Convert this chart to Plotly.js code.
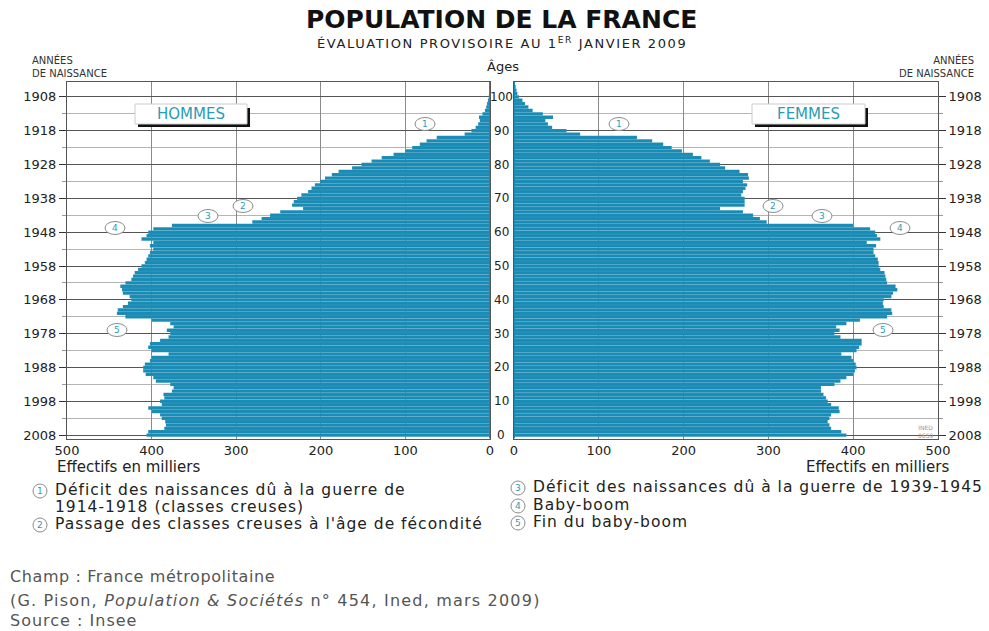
<!DOCTYPE html>
<html><head><meta charset="utf-8">
<script src="https://cdn.plot.ly/plotly-3.0.1.min.js"></script>
<style>html,body{margin:0;padding:0;background:#fff}#chart{width:989px;height:631px}</style>
</head><body><div id="chart"></div>
<script>
// ---------- DATA ----------
const ages = [0,1,2,3,4,5,6,7,8,9,10,11,12,13,14,15,16,17,18,19,20,21,22,23,24,25,26,27,28,29,30,31,32,33,34,35,36,37,38,39,40,41,42,43,44,45,46,47,48,49,50,51,52,53,54,55,56,57,58,59,60,61,62,63,64,65,66,67,68,69,70,71,72,73,74,75,76,77,78,79,80,81,82,83,84,85,86,87,88,89,90,91,92,93,94,95,96,97,98,99,100,101,102,103,104,105];
// Effectifs en milliers, hommes
const hommes = [406,404,385,383,384,388,390,400,404,388,
                390,385,386,376,374,378,395,398,407,410,
                410,408,402,400,380,400,404,402,390,380,
                378,382,374,378,400,431,441,440,434,428,
                424,426,434,435,437,431,424,422,420,416,
                412,408,406,404,402,398,402,398,412,406,
                404,398,376,281,270,260,248,221,234,232,
                228,223,215,211,207,201,195,187,179,163,
                152,140,128,114,100,92,83,75,63,30,
                22,17,14,12,13,9,6,4.5,3.5,2.5,
                1.5,1,0.7,0.4,0.2,0.1];
// Effectifs en milliers, femmes
const femmes = [392,386,374,372,370,372,374,384,383,374,
                370,368,365,362,362,378,385,392,400,402,
                404,403,400,398,386,404,407,410,410,385,
                378,384,380,392,408,440,446,445,436,435,
                436,445,447,452,450,440,439,438,437,432,
                430,430,429,426,424,424,427,416,432,428,
                426,420,400,298,290,282,270,243,272,272,
                272,268,270,273,275,270,277,276,266,249,
                243,231,221,211,198,186,176,163,145,78,
                62,45,40,37,46,34,22,17,13,10,
                6,4,3,2,1,0.5];
const valueTicks = [0,100,200,300,400,500];
const ageTicks = [0,10,20,30,40,50,60,70,80,90,100,105];
const yearTickVals = [0,10,20,30,40,50,60,70,80,90,100];
const yearTickText = ['2008','1998','1988','1978','1968','1958','1948','1938','1928','1918','1908'];
const minorAgeTicks = [5,15,25,35,45,55,65,75,85,95];
const notes = ['1','2','3','4','5'];
const legendTexts = [
  'Déficit des naissances dû à la guerre de',
  '1914-1918 (classes creuses)',
  "Passage des classes creuses à l'âge de fécondité",
  'Déficit des naissances dû à la guerre de 1939-1945',
  'Baby-boom',
  'Fin du baby-boom'
];

// ---------- STYLE / LAYOUT ----------
const W = 989, H = 631;
const FONT = 'DejaVu Sans, Liberation Sans, Arial, sans-serif';
const BLUE = '#1a8bb5';
const TEAL = '#2a9cb6';
const px = x => x / W;
const py = y => 1 - y / H;
const yDom = [py(438.5), py(81.7)];
const yRange = [-1, 104.5];

const traces = [
  {type:'bar', orientation:'h', x:hommes, y:ages, xaxis:'x', yaxis:'y',
   marker:{color:BLUE, line:{color:'rgba(255,255,255,0.22)', width:0.3}}, hoverinfo:'skip'},
  {type:'bar', orientation:'h', x:femmes, y:ages, xaxis:'x2', yaxis:'y2',
   marker:{color:BLUE, line:{color:'rgba(255,255,255,0.22)', width:0.3}}, hoverinfo:'skip'}
];

const yCommon = {
  domain: yDom, range: yRange, tickmode:'array', tickvals: yearTickVals, ticktext: yearTickText,
  ticks:'outside', ticklen:7, tickcolor:'#333', tickwidth:1,
  showgrid:true, gridcolor:'#555', gridwidth:1,
  minor:{tickmode:'array', tickvals:minorAgeTicks, showgrid:true, gridcolor:'#b5b5b5', gridwidth:1,
         ticks:'outside', ticklen:4, tickcolor:'#999'},
  showline:true, linecolor:'#555', linewidth:1, mirror:true, zeroline:false,
  tickfont:{family:FONT, size:13, color:'#222'}, fixedrange:true
};
const xCommon = {
  tickmode:'array', tickvals: valueTicks, showgrid:true, gridcolor:'#8a8a8a', gridwidth:1.2,
  showline:true, linecolor:'#555', linewidth:1, mirror:true, zeroline:false, ticks:'',
  tickfont:{family:FONT, size:13, color:'#222'}, fixedrange:true
};

const annotations = [];
const spacing = {};   // annotation index -> letter-spacing (px), to mimic the wide lettering
const shapes = [];
function txt(x, y, text, size, opts, ls) {
  if (ls) spacing[annotations.length] = ls;
  annotations.push(Object.assign({xref:'paper', yref:'paper', x:px(x), y:py(y), text:text,
    showarrow:false, xanchor:'center', yanchor:'middle',
    font:{family:FONT, size:size, color:'#222'}}, opts || {}));
}
function circled(x, y, label, rx, ry) {
  shapes.push({type:'circle', xref:'paper', yref:'paper', x0:px(x-rx), x1:px(x+rx), y0:py(y+ry), y1:py(y-ry),
    line:{color:'#8c8c8c', width:1}, fillcolor:'#fff', layer:'above'});
  txt(x, y, label, 9, {font:{family:FONT, size:9, color:TEAL}});
}

// Titles
txt(501, 20, '<b>POPULATION DE LA FRANCE</b>', 25, {font:{family:FONT, size:25, color:'#111'}});
txt(315, 43, 'ÉVALUATION PROVISOIRE AU 1<sup>ER</sup> JANVIER 2009', 13, {xanchor:'left', font:{family:FONT, size:13, color:'#222'}}, 1.6);
txt(30, 66, 'ANNÉES<br>DE NAISSANCE', 10, {xanchor:'left', align:'left', font:{family:FONT, size:10, color:'#333'}});
txt(976, 66, 'ANNÉES<br>DE NAISSANCE', 10, {xanchor:'right', align:'right', font:{family:FONT, size:10, color:'#333'}});
txt(503, 66, 'Âges', 13, {font:{family:FONT, size:13, color:'#222'}});

// Age labels between the two pyramids
ageTicks.forEach(a => annotations.push({xref:'paper', yref:'y', x:px(501), y:(a === 105 ? 104.6 : a), text:String(a),
  showarrow:false, xanchor:'center', yanchor:'middle', font:{family:FONT, size:12, color:'#222'}}));

// Axis captions
txt(55, 467, 'Effectifs en milliers', 15, {xanchor:'left'});
txt(951, 467, 'Effectifs en milliers', 15, {xanchor:'right'});

// HOMMES / FEMMES boxes
[[135, 247, 'HOMMES'], [752, 865, 'FEMMES']].forEach(([x0, x1, label]) => {
  shapes.push({type:'rect', xref:'paper', yref:'paper', x0:px(x0+3), x1:px(x1+3), y0:py(127), y1:py(108),
    line:{width:0}, fillcolor:'#111', layer:'above'});
  shapes.push({type:'rect', xref:'paper', yref:'paper', x0:px(x0), x1:px(x1), y0:py(124), y1:py(104),
    line:{color:'#ccc', width:1}, fillcolor:'#fff', layer:'above'});
  txt((x0+x1)/2, 114.5, label, 15, {font:{family:FONT, size:15, color:TEAL}});
});

// Zero lines in blue
shapes.push({type:'line', xref:'x', yref:'y', x0:0, x1:0, y0:yRange[0], y1:yRange[1], line:{color:BLUE, width:2}});
shapes.push({type:'line', xref:'x2', yref:'y2', x0:0, x1:0, y0:yRange[0], y1:yRange[1], line:{color:BLUE, width:2}});

// Circled notes in the chart
const notePosH = [[425,124],[243,206],[208,216],[115,228],[117,330]];
const notePosF = [[619,124],[773,206],[822,216],[900,228],[883,330]];
notes.forEach((n, i) => { circled(notePosH[i][0], notePosH[i][1], n, 10, 6.5); circled(notePosF[i][0], notePosF[i][1], n, 10, 6.5); });

// Legend of notes
const LS = 15.5, LSP = 1;
circled(40, 491, notes[0], 7, 7);
txt(53, 490, legendTexts[0], LS, {xanchor:'left'}, LSP);
txt(53, 507, legendTexts[1], LS, {xanchor:'left'}, LSP);
circled(40, 525, notes[1], 7, 7);
txt(53, 524, legendTexts[2], LS, {xanchor:'left'}, LSP);
circled(518, 488, notes[2], 7, 7);
txt(531, 487, legendTexts[3], LS, {xanchor:'left'}, LSP);
circled(518, 506, notes[3], 7, 7);
txt(531, 505, legendTexts[4], LS, {xanchor:'left'}, LSP);
circled(518, 523, notes[4], 7, 7);
txt(531, 522, legendTexts[5], LS, {xanchor:'left'}, LSP);

// INED mark
txt(925, 431, 'INED<br>0659', 6, {font:{family:FONT, size:6, color:'#999'}});

// Footnotes
const FS = 16;
txt(8, 576, 'Champ : France métropolitaine', FS, {xanchor:'left', font:{family:FONT, size:FS, color:'#555'}}, 0.6);
txt(8, 600, '(G. Pison, <i>Population &amp; Sociétés</i> n° 454, Ined, mars 2009)', FS, {xanchor:'left', font:{family:FONT, size:FS, color:'#555'}}, 1.2);
txt(8, 620.5, 'Source : Insee', FS, {xanchor:'left', font:{family:FONT, size:FS, color:'#555'}}, 1);

const layout = {
  width: W, height: H, margin:{l:0, r:0, t:0, b:0}, paper_bgcolor:'#fff', plot_bgcolor:'#fff',
  showlegend:false, bargap:0,
  xaxis: Object.assign({}, xCommon, {domain:[px(67), px(490)], range:[500, 0], anchor:'y'}),
  yaxis: Object.assign({}, yCommon, {anchor:'x', side:'left'}),
  xaxis2: Object.assign({}, xCommon, {domain:[px(514), px(938)], range:[0, 500], anchor:'y2'}),
  yaxis2: Object.assign({}, yCommon, {anchor:'x2', side:'right'}),
  annotations: annotations, shapes: shapes
};

Plotly.newPlot('chart', traces, layout, {staticPlot:true, displayModeBar:false}).then(gd => {
  gd.querySelectorAll('g.annotation').forEach(g => {
    const i = g.getAttribute('data-index');
    if (spacing[i] !== undefined) {
      const t = g.querySelector('text.annotation-text');
      if (!t) return;
      const b0 = t.getBBox();
      t.style.letterSpacing = spacing[i] + 'px';
      const b1 = t.getBBox();
      // keep the left edge where Plotly placed it (all spaced texts are left-anchored)
      const dx = b0.x - b1.x;
      t.setAttribute('transform', 'translate(' + dx.toFixed(2) + ',0)');
    }
  });
});
</script></body></html>
